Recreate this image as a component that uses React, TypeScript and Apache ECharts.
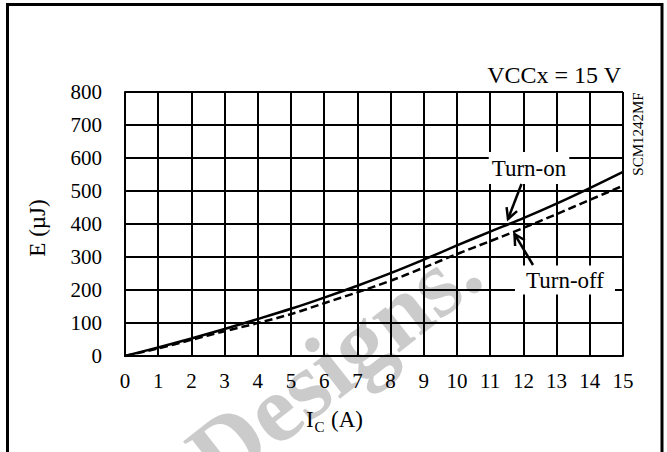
import React, { useEffect, useRef } from "react";
import * as echarts from "echarts";

const FONT = '"Liberation Serif", "Times New Roman", serif';

const currentA = [0, 1, 2, 3, 4, 5, 6, 7, 8, 9, 10, 11, 12, 13, 14, 15];
const turnOnEnergy = [0, 26, 53, 82, 112, 143, 177, 213, 251, 292, 335, 377, 418, 462, 509, 558];
const turnOffEnergy = [0, 23, 49, 75, 100, 127, 160, 193, 228, 268, 309, 348, 388, 430, 473, 516];
const xTicks = { min: 0, max: 15, interval: 1 };
const yTicks = { min: 0, max: 800, interval: 100 };

export default function App() {
  const ref = useRef<HTMLDivElement>(null);
  useEffect(() => {
    if (!ref.current) return;
    const chart = echarts.init(ref.current, undefined, { renderer: "svg" });
    const txt = (
      text: string,
      x: number,
      y: number,
      fontSize: number,
      align: string,
      extra: any = {},
      el: any = {}
    ) => ({
      type: "text",
      x,
      y,
      z: 50,
      ...el,
      style: {
        text,
        fill: "#000",
        font: `${fontSize}px ${FONT}`,
        align,
        textAlign: align,
        verticalAlign: "middle",
        textVerticalAlign: "middle",
        ...extra,
      },
    });
    const arrowStyle = { stroke: "#000", lineWidth: 2.5, fill: null };
    chart.setOption({
      animation: false,
      backgroundColor: "#fff",
      textStyle: { fontFamily: FONT },
      grid: { left: 125, top: 92, right: 44, bottom: 96 },
      xAxis: {
        type: "value",
        ...xTicks,
        axisLine: { show: true, lineStyle: { color: "#000", width: 2 } },
        axisTick: { show: false },
        splitLine: { show: true, lineStyle: { color: "#000", width: 2 } },
        axisLabel: { color: "#000", fontSize: 21, margin: 14, fontFamily: FONT },
      },
      yAxis: {
        type: "value",
        ...yTicks,
        axisLine: { show: true, lineStyle: { color: "#000", width: 2 } },
        axisTick: { show: false },
        splitLine: { show: true, lineStyle: { color: "#000", width: 2 } },
        axisLabel: { color: "#000", fontSize: 21, margin: 23, fontFamily: FONT },
      },
      series: [
        {
          name: "Turn-on",
          type: "line",
          data: currentA.map((x, i) => [x, turnOnEnergy[i]]),
          showSymbol: false,
          smooth: 0.3,
          z: 5,
          lineStyle: { color: "#000", width: 2.5 },
        },
        {
          name: "Turn-off",
          type: "line",
          data: currentA.map((x, i) => [x, turnOffEnergy[i]]),
          showSymbol: false,
          smooth: 0.3,
          z: 5,
          lineStyle: { color: "#000", width: 2.5, type: [8, 4] },
        },
      ],
      graphic: [
        {
          type: "text",
          x: 334,
          y: 362,
          rotation: (38 * Math.PI) / 180,
          z: -5,
          silent: true,
          style: {
            text: "Designs.",
            fill: "#cbcbcb",
            font: `bold 96px ${FONT}`,
            align: "center",
            textAlign: "center",
            verticalAlign: "middle",
            textVerticalAlign: "middle",
          },
        },
        {
          type: "rect",
          z: 60,
          shape: { x: 7.5, y: 4.5, width: 654.5, height: 520 },
          style: { fill: null, stroke: "#000", lineWidth: 3 },
        },
        txt("VCCx = 15 V", 621, 74.5, 24, "right"),
        txt("SCM1242MF", 637.5, 134, 15, "center", {}, { rotation: Math.PI / 2 }),
        txt("E (\u00b5J)", 37.5, 228, 23, "center", {}, { rotation: Math.PI / 2 }),
        txt("I", 306, 419, 23, "left"),
        txt("C", 314.5, 426.5, 15, "left"),
        txt("(A)", 331, 419, 23, "left"),
        txt("Turn-on", 529, 168, 23, "center", {
          backgroundColor: "#fff",
          padding: [4, 3, 5, 3],
        }),
        txt("Turn-off", 565, 280, 23, "center", {
          backgroundColor: "#fff",
          padding: [3, 11, 3, 11],
        }),
        {
          type: "polyline",
          z: 55,
          shape: { points: [[521.5, 184], [508, 219]] },
          style: arrowStyle,
        },
        {
          type: "polyline",
          z: 55,
          shape: { points: [[506.6, 207.1], [508, 219], [517.1, 211.1]] },
          style: arrowStyle,
        },
        {
          type: "polyline",
          z: 55,
          shape: { points: [[533, 265], [514.5, 234]] },
          style: arrowStyle,
        },
        {
          type: "polyline",
          z: 55,
          shape: { points: [[515.1, 246], [514.5, 234], [524.8, 240.2]] },
          style: arrowStyle,
        },
      ],
    });
    return () => chart.dispose();
  }, []);
  return (
    <div
      ref={ref}
      style={{ position: "fixed", left: 0, top: 0, width: 667, height: 452 }}
    />
  );
}
